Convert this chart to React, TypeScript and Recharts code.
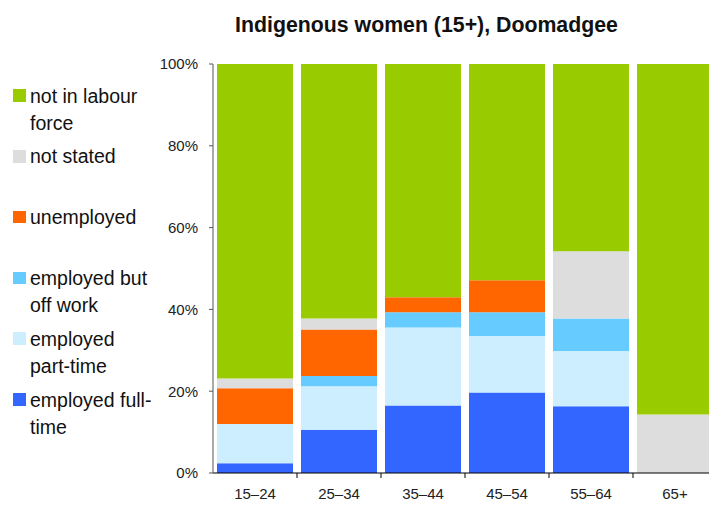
import { BarChart, Bar, XAxis, YAxis } from 'recharts';

const ageGroups = ['15–24', '25–34', '35–44', '45–54', '55–64', '65+'];

// per cent of Indigenous women in each age group
const employedFullTime = [2.4, 10.6, 16.5, 19.7, 16.3, 0];
const employedPartTime = [9.6, 10.6, 19.1, 13.8, 13.5, 0];
const employedOffWork = [0, 2.5, 3.7, 5.8, 8.0, 0];
const unemployed = [8.7, 11.4, 3.7, 7.8, 0, 0];
const notStated = [2.4, 2.7, 0, 0, 16.4, 14.3];
const notInLabourForce = [76.9, 62.2, 57.0, 52.9, 45.8, 85.7];

const yTicks = [0, 20, 40, 60, 80, 100];

// stacked bottom to top
const series = [
  { key: 'fullTime', values: employedFullTime, color: '#3366ff', name: ['employed full-', 'time'] },
  { key: 'partTime', values: employedPartTime, color: '#cceeff', name: ['employed', 'part-time'] },
  { key: 'offWork', values: employedOffWork, color: '#66ccff', name: ['employed but', 'off work'] },
  { key: 'unemployed', values: unemployed, color: '#ff6600', name: ['unemployed'] },
  { key: 'notStated', values: notStated, color: '#dddddd', name: ['not stated'] },
  { key: 'nilf', values: notInLabourForce, color: '#99cc00', name: ['not in labour', 'force'] },
];

const rows = ageGroups.map((age, i) => {
  const row: Record<string, string | number> = { age };
  series.forEach((s) => {
    row[s.key] = s.values[i];
  });
  return row;
});

const FONT = '"Liberation Sans", Arial, Helvetica, sans-serif';
const X_TICK_SIZE = 5;
const X_TICK_MARGIN = 10;

function AgeTick(props: any) {
  const { x, y, payload, index } = props;
  const half = payload?.offset ?? 42;
  const axisY = y - X_TICK_SIZE - X_TICK_MARGIN;
  return (
    <g>
      {index < ageGroups.length - 1 && (
        <line x1={x + half} x2={x + half} y1={axisY} y2={axisY + X_TICK_SIZE} stroke="#000" />
      )}
      <text x={x} y={y} dy="0.71em" textAnchor="middle" fontSize={15} fill="#222" fontFamily={FONT}>
        {payload.value}
      </text>
    </g>
  );
}

function Legend() {
  const items = [...series].reverse();
  return (
    <div style={{ position: 'absolute', left: 0, top: 0 }}>
      {items.map((s, i) => (
        <div
          key={s.key}
          style={{ position: 'absolute', left: 13, top: 82.6 + i * 60.8, width: 150, display: 'flex' }}
        >
          <span
            style={{
              width: 12.5,
              height: 12.5,
              marginTop: 6.7,
              marginRight: 4.5,
              background: s.color,
              flexShrink: 0,
            }}
          />
          <span style={{ fontSize: 19.5, lineHeight: '27px', color: '#111', whiteSpace: 'nowrap' }}>
            {s.name.map((line, j) => (
              <div key={j}>{line}</div>
            ))}
          </span>
        </div>
      ))}
    </div>
  );
}

export default function App() {
  return (
    <div
      style={{
        position: 'absolute',
        left: 0,
        top: 0,
        width: 709,
        height: 506,
        overflow: 'hidden',
        background: '#fff',
        fontFamily: FONT,
      }}
    >
      <div
        style={{
          position: 'absolute',
          left: 226.5,
          top: 15.3,
          width: 400,
          textAlign: 'center',
          fontSize: 21.3,
          lineHeight: '21px',
          fontWeight: 700,
          color: '#111',
          whiteSpace: 'nowrap',
        }}
      >
        Indigenous women (15+), Doomadgee
      </div>
      <Legend />
      <div style={{ position: 'absolute', left: 0, top: 0 }}>
        <BarChart
          width={730}
          height={506}
          data={rows}
          margin={{ top: 64, right: 13, bottom: 0, left: 0 }}
          barCategoryGap={4}
        >
          <XAxis
            dataKey="age"
            interval={0}
            height={33}
            tickLine={false}
            tickSize={X_TICK_SIZE}
            tickMargin={X_TICK_MARGIN}
            axisLine={{ stroke: '#000' }}
            tick={<AgeTick />}
          />
          <YAxis
            width={213}
            domain={[0, 100]}
            ticks={yTicks}
            interval={0}
            tickFormatter={(v) => `${v}%`}
            tickSize={4}
            tickMargin={11}
            tick={{ fontSize: 15, fill: '#222', fontFamily: FONT }}
            axisLine={{ stroke: '#555' }}
            tickLine={{ stroke: '#555' }}
          />
          {series.map((s) => (
            <Bar key={s.key} dataKey={s.key} stackId="a" fill={s.color} isAnimationActive={false} />
          ))}
        </BarChart>
      </div>
    </div>
  );
}
